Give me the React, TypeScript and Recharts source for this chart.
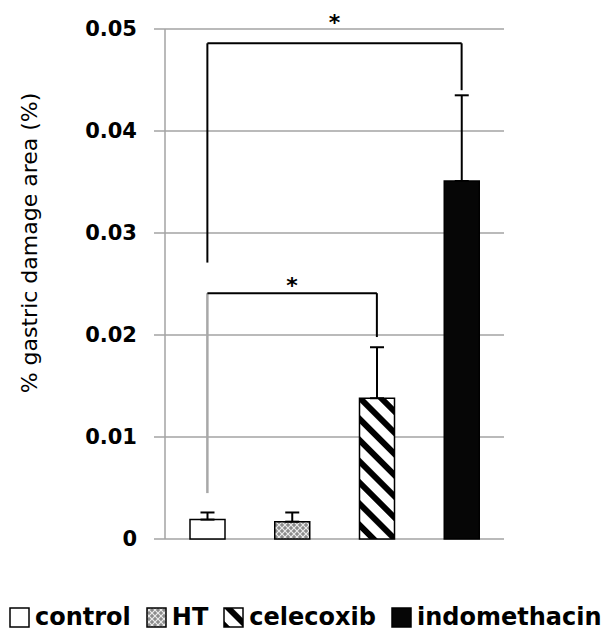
import {
  BarChart,
  Bar,
  XAxis,
  YAxis,
  CartesianGrid,
  ErrorBar,
  ReferenceLine,
  Legend,
  Cell,
} from "recharts";

const groups = ["control", "HT", "celecoxib", "indomethacin"];
const means = [0.0019, 0.0017, 0.0138, 0.0351];
const errors = [0.0007, 0.0009, 0.005, 0.0084];
const yTicks = [0, 0.01, 0.02, 0.03, 0.04, 0.05];
const fills = ["#ffffff", "url(#htFill)", "url(#stripeFill)", "#060606"];

// significance brackets: horizontal bar height, left/right leg end values
const bigBracket = { from: "control", to: "indomethacin", top: 0.0486, leftEnd: 0.0271, rightEnd: 0.044 };
const smallBracket = { from: "control", to: "celecoxib", top: 0.0241, leftEnd: 0.0238, rightEnd: 0.0198 };
const guideLine = { at: "control", from: 0.0241, to: 0.0045 };

const data = groups.map((g, i) => ({
  name: g,
  value: means[i],
  err: [0, errors[i]],
}));

const gray = "#a3a3a3";
const font = "'DejaVu Sans', sans-serif";

function Swatch({ fill }: { fill: string }) {
  return (
    <svg width={21} height={21} style={{ display: "block" }}>
      <rect x={1} y={1} width={19} height={19} fill={fill} stroke="#000" strokeWidth={1.5} />
    </svg>
  );
}

function LegendContent() {
  return (
    <div style={{ display: "flex", alignItems: "center", paddingLeft: 9, whiteSpace: "nowrap" }}>
      {groups.map((g, i) => (
        <div key={g} style={{ display: "flex", alignItems: "center", marginRight: 15 }}>
          <Swatch fill={fills[i]} />
          <span
            style={{
              marginLeft: 5,
              fontFamily: font,
              fontWeight: "bold",
              fontSize: 24,
              lineHeight: "24px",
              color: "#000",
            }}
          >
            {g}
          </span>
        </div>
      ))}
    </div>
  );
}

export default function App() {
  return (
    <div style={{ fontFamily: font }}>
      <style>{"body{margin:0}"}</style>
      <BarChart
        width={611}
        height={634}
        data={data}
        margin={{ top: 29, right: 107, left: 0, bottom: 95 }}
      >
        <defs>
          <pattern id="htFill" width="6" height="6" patternUnits="userSpaceOnUse">
            <rect width="6" height="6" fill="#8c8c8c" />
            <path d="M0 0L6 6M6 0L0 6" stroke="#ececec" strokeWidth="1.2" />
          </pattern>
          <pattern
            id="stripeFill"
            width="15"
            height="15"
            patternUnits="userSpaceOnUse"
            patternTransform="rotate(-45)"
          >
            <rect width="15" height="15" fill="#fff" />
            <rect width="6" height="15" fill="#000" />
          </pattern>
        </defs>
        <CartesianGrid vertical={false} stroke={gray} strokeWidth={1.5} />
        <XAxis
          dataKey="name"
          height={0}
          tick={false}
          tickLine={false}
          axisLine={{ stroke: gray, strokeWidth: 1.5 }}
        />
        <YAxis
          width={165}
          domain={[0, 0.05]}
          ticks={yTicks}
          interval={0}
          tickSize={11}
          tickMargin={17}
          axisLine={{ stroke: gray, strokeWidth: 1.5 }}
          tickLine={{ stroke: gray, strokeWidth: 1.5 }}
          tick={{ fill: "#000", fontSize: 21, fontWeight: "bold", fontFamily: font }}
          label={{
            value: "% gastric damage area (%)",
            angle: -90,
            position: "center",
            dx: -53,
            dy: -41,
            style: { fill: "#000", fontSize: 22, fontFamily: font },
          }}
        />
        <ReferenceLine
          segment={[
            { x: guideLine.at, y: guideLine.from },
            { x: guideLine.at, y: guideLine.to },
          ]}
          stroke="#a8a8a8"
          strokeWidth={2.5}
        />
        <ReferenceLine
          segment={[
            { x: bigBracket.from, y: bigBracket.leftEnd },
            { x: bigBracket.from, y: bigBracket.top },
          ]}
          stroke="#000"
          strokeWidth={2}
        />
        <ReferenceLine
          segment={[
            { x: bigBracket.from, y: bigBracket.top },
            { x: bigBracket.to, y: bigBracket.top },
          ]}
          stroke="#000"
          strokeWidth={2}
          label={{ value: "*", position: "top", offset: 13, fill: "#000", fontSize: 22, fontWeight: "bold" }}
        />
        <ReferenceLine
          segment={[
            { x: bigBracket.to, y: bigBracket.top },
            { x: bigBracket.to, y: bigBracket.rightEnd },
          ]}
          stroke="#000"
          strokeWidth={2}
        />
        <ReferenceLine
          segment={[
            { x: smallBracket.from, y: smallBracket.top },
            { x: smallBracket.to, y: smallBracket.top },
          ]}
          stroke="#000"
          strokeWidth={2}
          label={{ value: "*", position: "top", offset: 0, fill: "#000", fontSize: 22, fontWeight: "bold" }}
        />
        <ReferenceLine
          segment={[
            { x: smallBracket.to, y: smallBracket.top },
            { x: smallBracket.to, y: smallBracket.rightEnd },
          ]}
          stroke="#000"
          strokeWidth={2}
        />
        <Bar dataKey="value" barSize={35} stroke="#000" strokeWidth={1.5} isAnimationActive={false}>
          {data.map((d, i) => (
            <Cell key={d.name} fill={fills[i]} />
          ))}
          <ErrorBar dataKey="err" direction="y" width={7} stroke="#000" strokeWidth={2} />
        </Bar>
        <Legend
          layout="horizontal"
          verticalAlign="middle"
          align="center"
          content={() => <LegendContent />}
          wrapperStyle={{ top: 605, left: 0, width: 611 }}
        />
      </BarChart>
    </div>
  );
}
